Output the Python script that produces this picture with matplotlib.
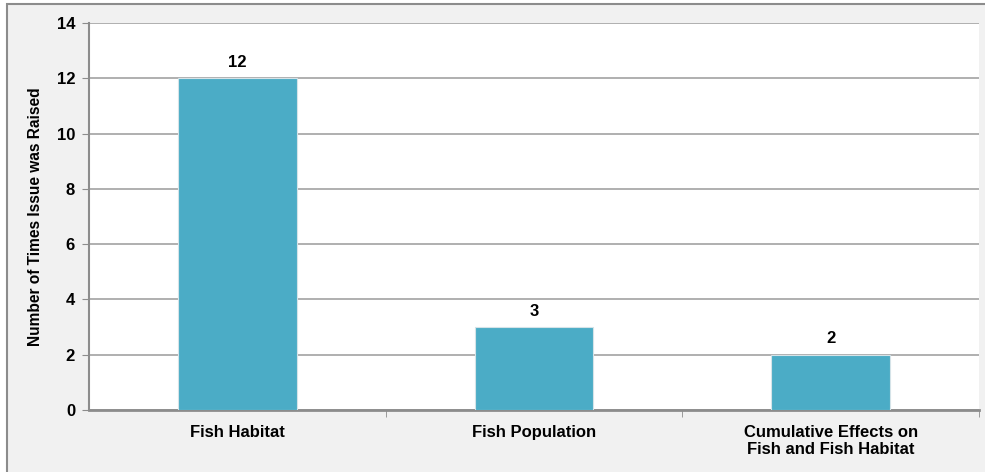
import matplotlib.pyplot as plt
from matplotlib.patches import Rectangle

categories = ['Fish Habitat', 'Fish Population', 'Cumulative Effects on\nFish and Fish Habitat']
counts = [12, 3, 2]
y_ticks = [0, 2, 4, 6, 8, 10, 12, 14]

plt.rcParams['font.family'] = ['Liberation Sans', 'DejaVu Sans']
plt.rcParams['font.weight'] = 'bold'

fig = plt.figure(figsize=(9.85, 4.72), dpi=100, facecolor='white')

# grey panel behind the chart
panel = Rectangle((7 / 985, -0.05), 1.0, (472 - 4) / 472 + 0.05, transform=fig.transFigure,
                  facecolor='#f1f1f1', edgecolor='#8c8c8c', linewidth=1.5, zorder=-5)
fig.patches.append(panel)

ax = fig.add_axes([89 / 985, 62 / 472, 890 / 985, 387 / 472])
ax.set_facecolor('white')

x = list(range(len(categories)))
bars = ax.bar(x, counts, width=0.40, color='#4bacc6', edgecolor='#d5e3e8', linewidth=0.8, zorder=3)

for xi, v in zip(x, counts):
    ax.text(xi, v + 0.3, '{}'.format(v), ha='center', va='bottom', fontsize=12, fontweight='bold')

ax.set_xlim(-0.5, 2.5)
ax.set_ylim(0, 14)
ax.set_yticks(y_ticks)
ax.set_yticklabels([str(t) for t in y_ticks], fontsize=12, fontweight='bold')
ax.yaxis.grid(True, color='#9a9a9a', linewidth=1.1, zorder=1)
ax.set_axisbelow(True)

ax.set_xticks(x)
ax.set_xticklabels(categories, fontsize=12, fontweight='bold', linespacing=1.15)
ax.tick_params(axis='x', length=0, pad=11)
ax.set_xticks([0.5, 1.5, 2.5], minor=True)
ax.tick_params(axis='x', which='minor', length=5, color='#8c8c8c', direction='out')
ax.tick_params(axis='y', length=5, color='#8c8c8c', direction='out', pad=5)

for side in ['top', 'right']:
    ax.spines[side].set_visible(False)
ax.spines['left'].set_color('#8c8c8c')
ax.spines['left'].set_linewidth(1.5)
ax.spines['bottom'].set_color('#8c8c8c')
ax.spines['bottom'].set_linewidth(2)

ax.set_ylabel('Number of Times Issue was Raised', fontsize=11.2, fontweight='bold', labelpad=10)

plt.savefig('out.png', dpi=100, facecolor=fig.get_facecolor())
